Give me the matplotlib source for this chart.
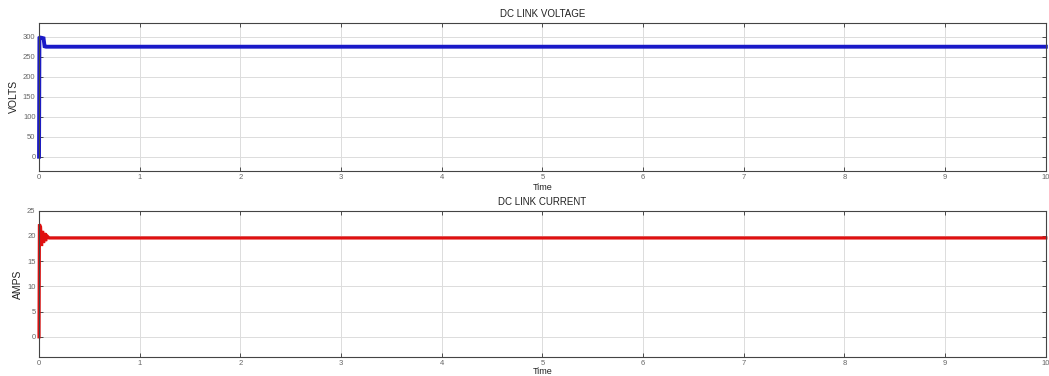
import matplotlib.pyplot as plt

plt.rcParams["font.family"] = ["Liberation Sans", "DejaVu Sans"]

# DC link voltage (V) vs time (s)
t_volt = [0.0, 0.004, 0.01, 0.03, 0.045, 0.055, 0.07, 10.0]
v_link = [0.0, 297.0, 298.0, 297.0, 296.0, 276.0, 275.0, 275.0]

# DC link current (A) vs time (s)
t_curr = [0.0, 0.004, 0.015, 0.025, 0.035, 0.045, 0.055, 0.065, 0.08, 0.1, 10.0]
i_link = [0.0, 22.3, 21.8, 18.0, 21.0, 18.6, 20.6, 19.0, 20.0, 19.6, 19.6]

time_ticks = list(range(0, 11))
volt_ticks = [0, 50, 100, 150, 200, 250, 300]
curr_ticks = [0, 5, 10, 15, 20, 25]

fig = plt.figure(figsize=(10.49, 3.76), dpi=100)
ax1 = fig.add_axes([0.0372, 0.546, 0.9598, 0.3936])
ax2 = fig.add_axes([0.0372, 0.0505, 0.9598, 0.3891])


def style_axis(ax, title, ylabel, yticks, ylim, xpad):
    ax.set_xlim(0, 10)
    ax.set_ylim(*ylim)
    ax.set_xticks(time_ticks)
    ax.set_yticks(yticks)
    ax.grid(True, color="#dcdcdc", linewidth=0.7)
    ax.set_axisbelow(True)
    ax.tick_params(direction="in", length=3, width=0.6, labelsize=5.5,
                   labelcolor="#666666", color="#333333", pad=2.5,
                   top=True, right=True)
    for sp in ax.spines.values():
        sp.set_color("#444444")
        sp.set_linewidth(0.8)
    ax.set_title(title, fontsize=7, color="#222222", pad=4)
    ax.set_xlabel("Time", fontsize=6.5, color="#222222", labelpad=xpad)
    ax.set_ylabel(ylabel, fontsize=7.5, color="#222222", labelpad=3)


ax1.plot(t_volt, v_link, color="#1a1ac8", linewidth=2.8,
         solid_joinstyle="miter", clip_on=False)
style_axis(ax1, "DC LINK VOLTAGE", "VOLTS", volt_ticks, (-35, 335), 1)

ax2.plot(t_curr, i_link, color="#e01010", linewidth=2.3,
         solid_joinstyle="miter", clip_on=False)
style_axis(ax2, "DC LINK CURRENT", "AMPS", curr_ticks, (-4, 25), 0)

fig.savefig("out.png", dpi=100)
